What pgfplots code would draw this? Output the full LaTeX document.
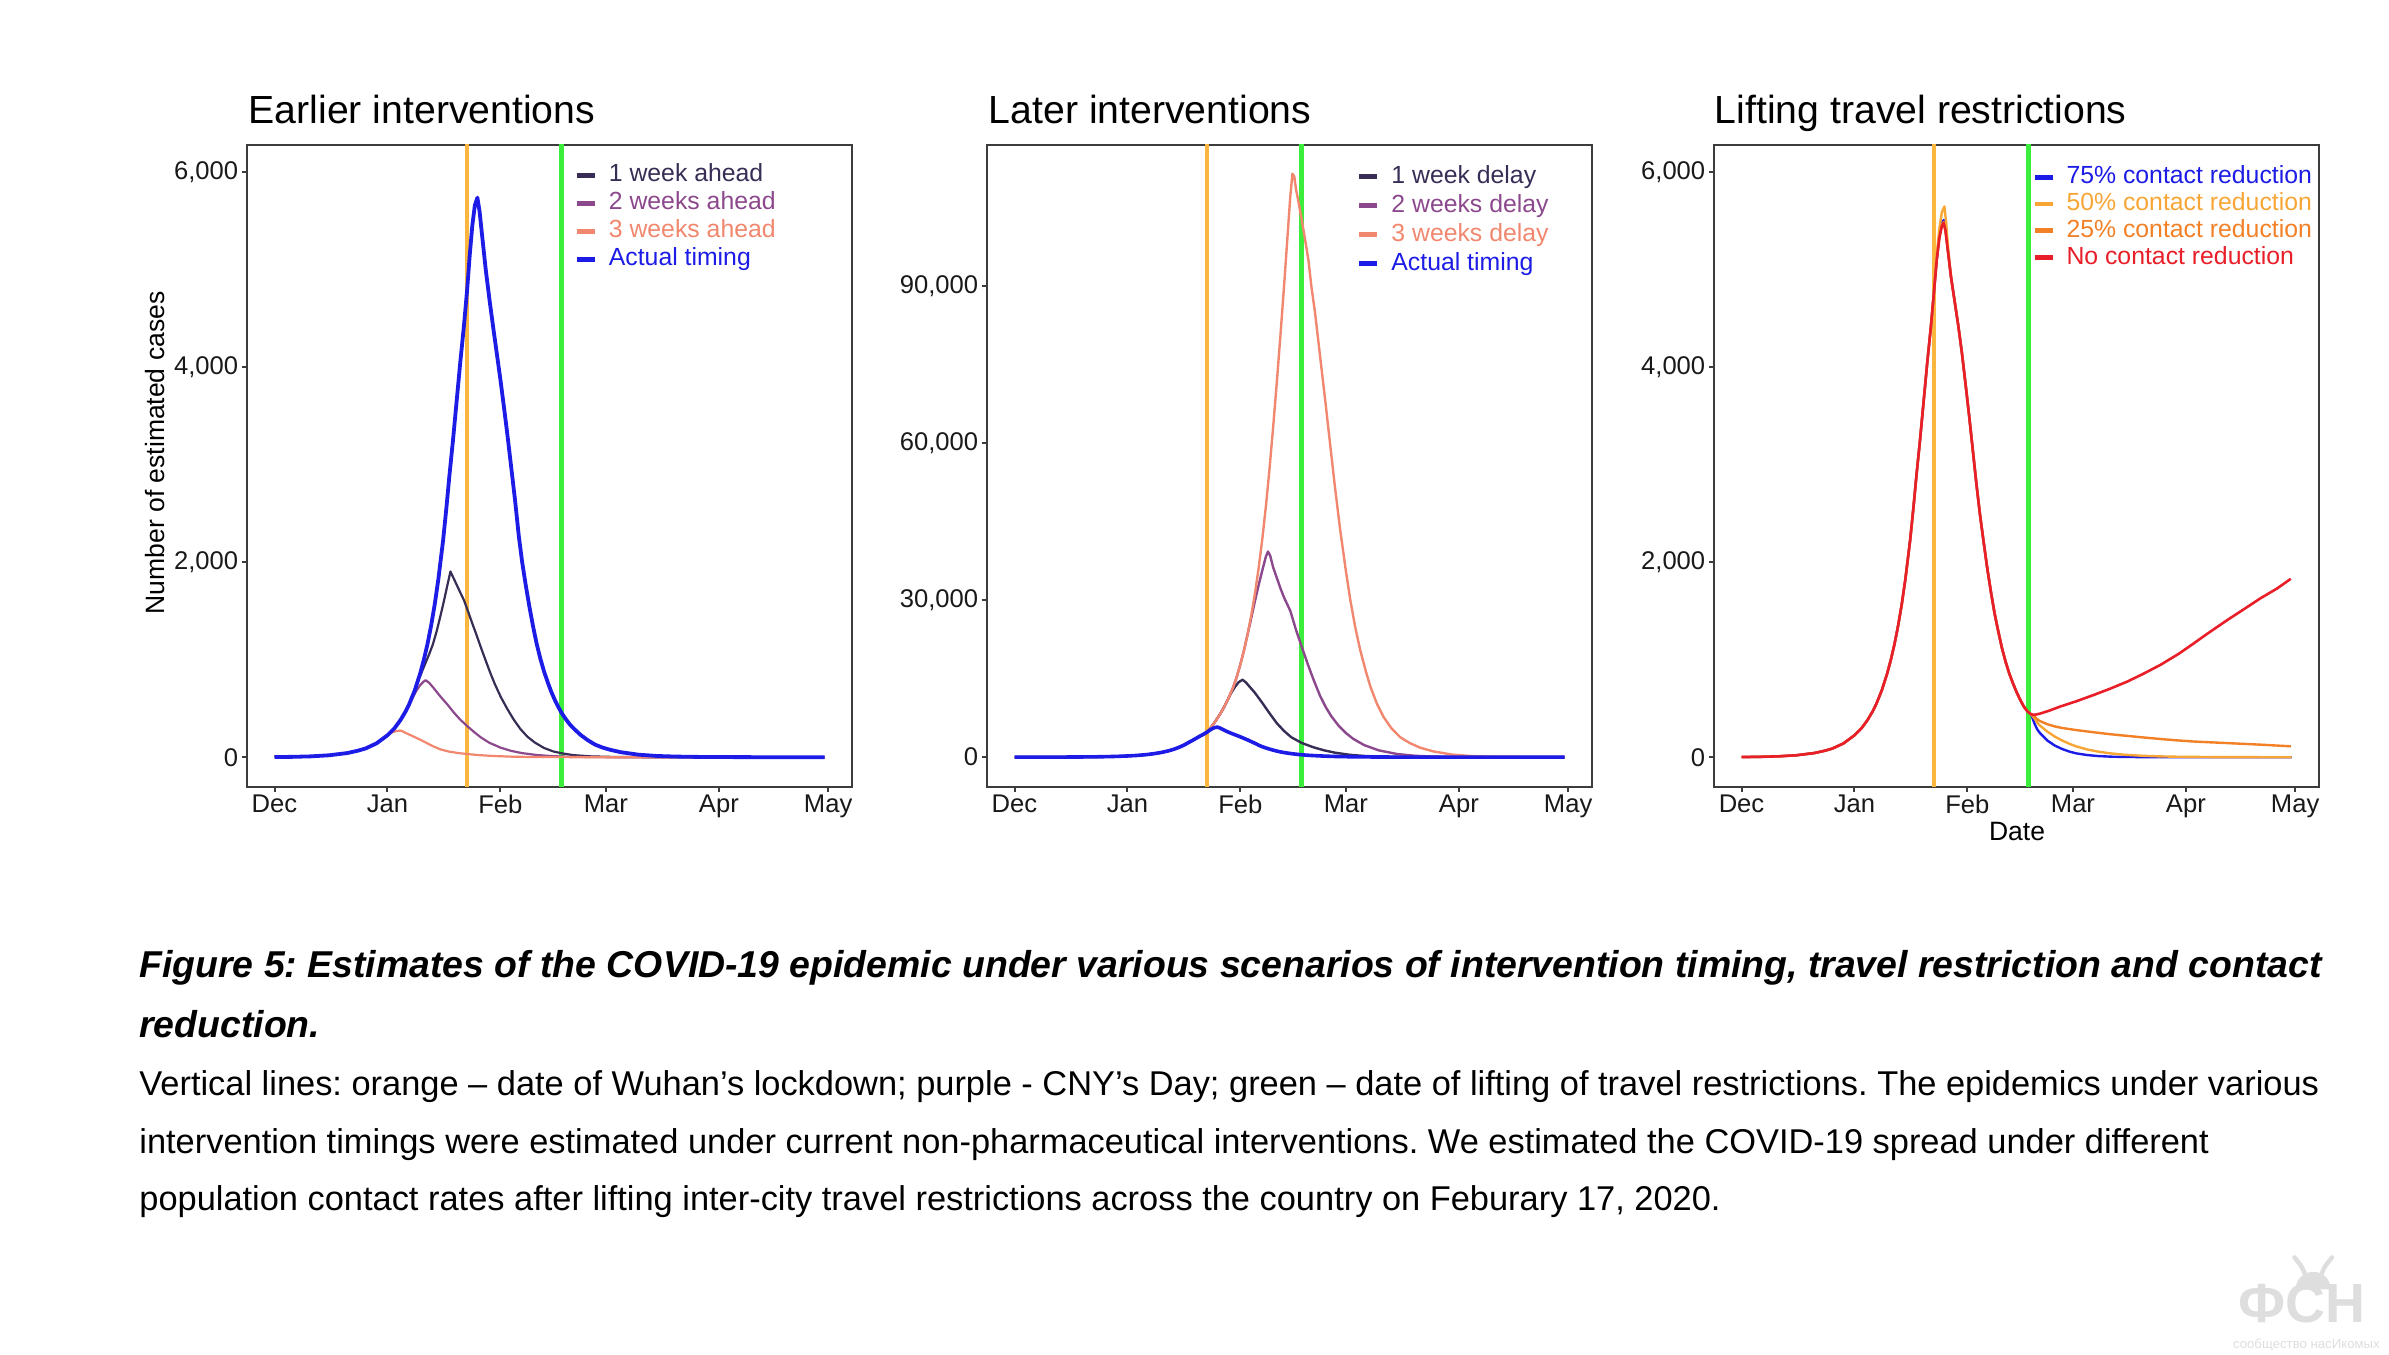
\documentclass[border=0pt]{standalone}
\usepackage{fontspec}
\setmainfont{Liberation Sans}
\usepackage{pgfplots}
\usepackage{pgfplotstable}
\pgfplotsset{compat=1.18}
\frenchspacing

\definecolor{wk1}{RGB}{55,45,85}
\definecolor{wk2}{RGB}{140,72,140}
\definecolor{wk3}{RGB}{240,135,110}
\definecolor{act}{RGB}{28,28,230}
\definecolor{cfifty}{RGB}{247,166,54}
\definecolor{ctwf}{RGB}{242,128,38}
\definecolor{cnone}{RGB}{232,30,40}
\definecolor{lock}{RGB}{250,182,62}
\definecolor{lift}{RGB}{60,238,60}
\definecolor{frame}{RGB}{60,60,60}
\definecolor{wm}{RGB}{222,222,222}

% ---------- data (day 0 = 1 Dec 2019) ----------
\pgfplotstableread{
x y
0 2
5 4
10 9
15 20
20 43
23 68
25 90
28 142
31 225
33 300
34.6 382
36 470
37 546
38.5 685
40 860
41 1000
42 1160
43 1350
44 1570
45 1830
46.3 2228
47.2 2560
48 2880
49 3250
50 3650
51 4050
52 4420
52.9 4800
53.6 5150
54.3 5450
55 5660
55.7 5740
56.3 5600
57 5350
58 5000
59 4700
60 4420
61 4150
62 3880
63 3590
64 3290
65 2970
66 2650
67.1 2260
68 2000
69 1760
70 1540
71 1340
72 1160
73 1010
74 880
75 770
76 670
77 585
78 510
78.9 450
80 390
81 340
82 300
84 230
86 175
88 130
90 100
92 78
95 52
100 26
105 13
110 7
115 4
120 2
130 1
140 0
151 0
}\tabActual

\pgfplotstableread{
x y
0 2
5 4
10 9
15 20
20 43
23 68
25 90
28 142
31 225
33 300
34.6 382
36 470
37 546
38.5 685
39.5 790
40.5 880
41.5 970
42.5 1060
43.5 1160
44.5 1290
45.5 1440
46.5 1600
47.5 1770
48.3 1905
49 1850
50 1770
51 1690
52 1612
53 1510
54.3 1373
55.5 1250
56.6 1133
58 990
59.3 860
60.5 750
62.1 620
64 490
65.7 385
67.5 290
69.4 212
71.5 150
74 95
76.5 60
78.9 40
82 22
86.8 9
92 4
100 1
110 0
151 0
}\tabEarlyA

\pgfplotstableread{
x y
0 2
5 4
10 9
15 20
20 43
23 68
25 90
28 142
31 225
33 300
34.6 382
36 470
37 540
38 615
39 685
40 740
41 778
41.5 790
42.5 762
43.5 718
45.6 621
47.5 540
49.2 460
51 385
52.9 320
54.7 262
56.6 205
59 148
62.1 98
65 65
68 42
72 23
76 12
80 6
90 1
100 0
151 0
}\tabEarlyB

\pgfplotstableread{
x y
0 2
5 4
10 9
15 20
20 43
23 68
25 90
28 142
31 225
32 250
33 264
34 271
34.8 272
36 250
37.5 224
40 180
42 142
43.5 113
45.6 80
48 57
50.5 43
52.9 33
56 22
60 13
65 6
70 3
80 1
90 0
151 0
}\tabEarlyC

\pgfplotstableread{
x y
0 2
5 4
10 9
15 20
20 43
23 68
25 90
28 142
31 225
33 300
34.6 382
36 470
37 546
38.5 685
40 860
41 1000
42 1160
43 1350
44 1570
45 1830
46.3 2228
47.2 2560
48 2880
49 3250
50 3650
51 4050
52 4420
52.9 4800
54 5750
55 6700
56 7750
57 8900
58 10200
58.7 11200
59.5 12300
60.5 13400
61.5 14300
62.6 14800
63.5 14300
64.5 13500
66 12300
68 10400
70 8400
72 6500
74 5000
76 3800
78.9 2700
82 1900
85 1300
88 850
92 450
96 230
100 110
110 20
120 0
151 0
}\tabLateA

\pgfplotstableread{
x y
0 2
5 4
10 9
15 20
20 43
23 68
25 90
28 142
31 225
33 300
34.6 382
36 470
37 546
38.5 685
40 860
41 1000
42 1160
43 1350
44 1570
45 1830
46.3 2228
47.2 2560
48 2880
49 3250
50 3650
51 4050
52 4420
52.9 4800
54 5750
55 6700
56 7750
57 8900
58 10200
58.7 11200
60 13300
61 15300
62 17700
63 20400
64 23500
65 26600
66 29800
67 32800
68 35600
69 38300
69.6 39300
70.2 38500
71 36300
72 34300
73 32300
74 30500
75.7 28000
77.3 24300
78.9 21000
80.5 17800
82.1 14800
83.9 11700
85.5 9500
87 7800
89 6000
91 4600
93 3500
96 2300
100 1300
105 600
110 260
115 110
120 50
130 10
151 0
}\tabLateB

\pgfplotstableread{
x y
0 2
5 4
10 9
15 20
20 43
23 68
25 90
28 142
31 225
33 300
34.6 382
36 470
37 546
38.5 685
40 860
41 1000
42 1160
43 1350
44 1570
45 1830
46.3 2228
47.2 2560
48 2880
49 3250
50 3650
51 4050
52 4420
52.9 4800
54 5750
55 6700
56 7750
57 8900
58 10200
58.7 11200
60 13300
61 15300
62 17700
63 20400
64 23500
65 27100
66 31200
67 36000
68 41500
69 47800
70 55000
71 63000
72 71500
73 80500
74 90000
75 100000
75.7 107000
76.3 111500
76.8 111000
77.3 108500
78 106000
78.9 102500
80 98000
80.7 95000
81.5 90000
82.5 85000
83.5 79000
84.5 73000
85.5 67000
86.7 59500
88 51500
89.4 43500
91 35500
92.2 30000
93.5 25000
94.9 20500
96.5 16300
97.7 13500
99.5 10200
101.3 7700
103.5 5500
105.9 3800
108.5 2700
111.4 1800
115 1100
120 500
125 230
130 100
140 20
151 0
}\tabLateC

% panel 3: common part to the lifting date, then the four scenarios
\pgfplotstableread{
x y
0 2
5 4
10 9
15 20
20 43
23 68
25 90
28 142
31 225
33 300
34.6 382
36 470
37 546
38.5 685
40 860
41 1000
42 1160
43 1350
44 1570
45 1830
46.3 2228
47.2 2560
48 2880
49 3250
50 3650
51 4050
52 4420
52.9 4800
53.6 5110
54.3 5340
55 5480
55.5 5510
56 5420
56.7 5190
57.5 4930
58.5 4680
59.5 4430
60.5 4150
61.5 3830
62.5 3500
63.5 3150
64.5 2800
65.5 2480
66.5 2200
67.5 1930
68.5 1690
69.5 1470
70.5 1290
71.5 1120
72.5 980
73.5 860
74.5 760
75.5 670
76.5 590
77.5 520
78.5 470
79.5 440
80.5 340
81.2 285
82 245
84 170
86 120
88 85
90 58
92 39
95 22
98 12
102 5
110 1
120 0
151 0
}\tabSev

\pgfplotstableread{
x y
0 2
5 4
10 9
15 20
20 43
23 68
25 90
28 142
31 225
33 300
34.6 382
36 470
37 546
38.5 685
40 860
41 1000
42 1160
43 1350
44 1570
45 1830
46.3 2228
47.2 2560
48 2880
49 3250
50 3650
51 4050
52 4420
52.9 4800
53.6 5150
54.3 5420
55 5590
55.7 5650
56.2 5480
56.7 5230
57.5 4930
58.5 4680
59.5 4430
60.5 4150
61.5 3830
62.5 3500
63.5 3150
64.5 2800
65.5 2480
66.5 2200
67.5 1930
68.5 1690
69.5 1470
70.5 1290
71.5 1120
72.5 980
73.5 860
74.5 760
75.5 670
76.5 590
77.5 520
78.5 470
79.5 440
80.5 395
81.2 355
82 322
84 262
86 212
88 172
90 138
92 110
95 79
98 57
101 41
105 26
110 15
115 8.5
120 5
130 1.5
140 0.5
151 0
}\tabFif

\pgfplotstableread{
x y
0 2
5 4
10 9
15 20
20 43
23 68
25 90
28 142
31 225
33 300
34.6 382
36 470
37 546
38.5 685
40 860
41 1000
42 1160
43 1350
44 1570
45 1830
46.3 2228
47.2 2560
48 2880
49 3250
50 3650
51 4050
52 4420
52.9 4800
53.6 5100
54.3 5330
55 5460
55.5 5490
56 5400
56.7 5180
57.5 4930
58.5 4680
59.5 4430
60.5 4150
61.5 3830
62.5 3500
63.5 3150
64.5 2800
65.5 2480
66.5 2200
67.5 1930
68.5 1690
69.5 1470
70.5 1290
71.5 1120
72.5 980
73.5 860
74.5 760
75.5 670
76.5 590
77.5 520
78.5 470
79.5 440
80.5 415
81.2 390
82 370
84 338
86 316
88 300
92 278
96.7 256
101 237
105.9 219
110 204
115 187
120 172
124.2 161
133.4 145
142.5 129
150.8 112
}\tabTwf

\pgfplotstableread{
x y
0 2
5 4
10 9
15 20
20 43
23 68
25 90
28 142
31 225
33 300
34.6 382
36 470
37 546
38.5 685
40 860
41 1000
42 1160
43 1350
44 1570
45 1830
46.3 2228
47.2 2560
48 2880
49 3250
50 3650
51 4050
52 4420
52.9 4800
53.6 5100
54.3 5320
55 5450
55.5 5480
56 5400
56.7 5180
57.5 4930
58.5 4680
59.5 4430
60.5 4150
61.5 3830
62.5 3500
63.5 3150
64.5 2800
65.5 2480
66.5 2200
67.5 1930
68.5 1690
69.5 1470
70.5 1290
71.5 1120
72.5 980
73.5 860
74.5 760
75.5 670
76.5 590
77.5 520
78.5 470
79.5 440
80.5 435
82 448
84.5 478
87.5 520
92 575
96.7 639
101 700
105.9 776
110 850
115 947
120 1060
124.2 1169
128 1270
133.4 1408
138 1520
142.5 1631
147 1730
150.8 1830
}\tabNone

\pgfplotsset{
  panel/.style={
    scale only axis, width=151.25pt, height=160.5pt,
    xmin=-7.55, xmax=158.55,
    xtick={0,31,62,91,122,152},
    xticklabels={Dec,Jan,Feb,Mar,Apr,May},
    scaled ticks=false,
    minor tick num=0,
    axis line style={draw=frame, line width=0.55pt},
    tick align=outside, xtick pos=bottom, ytick pos=left,
    major tick length=1.25pt,
    tick style={draw=frame, line width=0.5pt},
    tick label style={font=\fontsize{6.4}{7}\selectfont, text=black!90},
    xticklabel style={inner sep=0pt, yshift=-0.5pt},
    yticklabel style={inner sep=0pt, xshift=-0.75pt},
    /pgf/number format/assume math mode=true,
    legend cell align=left,
    legend image code/.code={\draw[##1, line width=1.2pt, solid] (0pt,0pt) -- (4.5pt,0pt); \path (7.6pt,0pt);},
    legend style={draw=none, fill=none, inner sep=0pt, anchor=north west,
      font=\fontsize{6.2}{7}\selectfont,
      nodes={inner sep=0pt, text height=4.5pt, text depth=1.3pt}},
    every axis plot/.append style={line join=round},
  },
}

\begin{document}
\begin{tikzpicture}
\path[use as bounding box] (0pt,0pt) rectangle (597.25pt,338.75pt);

% ===== Panel 1 =====
\begin{axis}[panel, at={(61.75pt,142pt)}, anchor=south west,
  ymin=-305, ymax=6280,
  ytick={0,2000,4000,6000}, yticklabels={0,{2,000},{4,000},{6,000}},
  legend style={at={(0.5395,0.9720)}, row sep=1.2pt}]
\addplot[forget plot, lock, line width=1.1pt] coordinates {(52.9,-1000) (52.9,8000)};
\addplot[forget plot, lift, line width=1.3pt] coordinates {(78.8,-1000) (78.8,8000)};
\addplot[wk1, line width=0.55pt] table {\tabEarlyA};
\addlegendentry{\textcolor{wk1}{1 week ahead}}
\addplot[wk2, line width=0.55pt] table {\tabEarlyB};
\addlegendentry{\textcolor{wk2}{2 weeks ahead}}
\addplot[wk3, line width=0.55pt] table {\tabEarlyC};
\addlegendentry{\textcolor{wk3}{3 weeks ahead}}
\addplot[act, line width=0.95pt] table {\tabActual};
\addlegendentry{\textcolor{act}{Actual timing}}
\end{axis}

% ===== Panel 2 =====
\begin{axis}[panel, at={(246.75pt,142pt)}, anchor=south west,
  ymin=-5700, ymax=117000,
  ytick={0,30000,60000,90000}, yticklabels={0,{30,000},{60,000},{90,000}},
  legend style={at={(0.6100,0.9700)}, row sep=1.45pt}]
\addplot[forget plot, lock, line width=0.95pt] coordinates {(52.9,-10000) (52.9,130000)};
\addplot[forget plot, lift, line width=1.3pt] coordinates {(78.8,-10000) (78.8,130000)};
\addplot[wk1, line width=0.6pt] table {\tabLateA};
\addlegendentry{\textcolor{wk1}{1 week delay}}
\addplot[wk2, line width=0.6pt] table {\tabLateB};
\addlegendentry{\textcolor{wk2}{2 weeks delay}}
\addplot[wk3, line width=0.6pt] table {\tabLateC};
\addlegendentry{\textcolor{wk3}{3 weeks delay}}
\addplot[act, line width=0.9pt] table {\tabActual};
\addlegendentry{\textcolor{act}{Actual timing}}
\end{axis}

% ===== Panel 3 =====
\begin{axis}[panel, at={(428.5pt,142pt)}, anchor=south west,
  ymin=-305, ymax=6280,
  ytick={0,2000,4000,6000}, yticklabels={0,{2,000},{4,000},{6,000}},
  legend style={at={(0.5250,0.9690)}, row sep=0.9pt}]
\addplot[forget plot, lock, line width=1.0pt] coordinates {(52.9,-1000) (52.9,8000)};
\addplot[forget plot, lift, line width=1.3pt] coordinates {(78.8,-1000) (78.8,8000)};
\addplot[act, line width=0.6pt] table {\tabSev};
\addlegendentry{\textcolor{act}{75\% contact reduction}}
\addplot[cfifty, line width=0.6pt] table {\tabFif};
\addlegendentry{\textcolor{cfifty}{50\% contact reduction}}
\addplot[ctwf, line width=0.6pt] table {\tabTwf};
\addlegendentry{\textcolor{ctwf}{25\% contact reduction}}
\addplot[cnone, line width=0.65pt] table {\tabNone};
\addlegendentry{\textcolor{cnone}{No contact reduction}}
\end{axis}

% titles and axis titles
\node[anchor=base west, inner sep=0pt, font=\fontsize{9.8}{11}\selectfont] at (62pt,307.75pt) {Earlier interventions};
\node[anchor=base west, inner sep=0pt, font=\fontsize{9.8}{11}\selectfont] at (247pt,307.75pt) {Later interventions};
\node[anchor=base west, inner sep=0pt, font=\fontsize{9.8}{11}\selectfont] at (428.5pt,307.75pt) {Lifting travel restrictions};
\node[rotate=90, inner sep=0pt, font=\fontsize{6.63}{8}\selectfont] at (38.75pt,225.5pt) {Number of estimated cases};
\node[anchor=base, inner sep=0pt, font=\fontsize{6.63}{8}\selectfont] at (504.25pt,128.5pt) {Date};

% caption
\node[anchor=base west, inner sep=0pt, font=\fontsize{9.35}{11}\selectfont\bfseries\itshape] at (34.65pt,94.25pt) {Figure 5: Estimates of the COVID-19 epidemic under various scenarios of intervention timing, travel restriction and contact};
\node[anchor=base west, inner sep=0pt, font=\fontsize{9.35}{11}\selectfont\bfseries\itshape] at (34.65pt,79.4pt) {reduction.};
\node[anchor=base west, inner sep=0pt, font=\fontsize{8.6}{10}\selectfont] at (34.65pt,64.9pt) {Vertical lines: orange – date of Wuhan’s lockdown; purple - CNY’s Day; green – date of lifting of travel restrictions. The epidemics under various};
\node[anchor=base west, inner sep=0pt, font=\fontsize{8.6}{10}\selectfont] at (34.65pt,50.4pt) {intervention timings were estimated under current non-pharmaceutical interventions. We estimated the COVID-19 spread under different};
\node[anchor=base west, inner sep=0pt, font=\fontsize{8.6}{10}\selectfont] at (34.65pt,36.0pt) {population contact rates after lifting inter-city travel restrictions across the country on Feburary 17, 2020.};

% watermark
\fill[wm] (573.9pt,16.4pt) arc[start angle=180, end angle=0, radius=4.4pt] -- cycle;
\draw[wm, line width=1.1pt, line cap=round] (576.2pt,20.2pt) .. controls (575.5pt,22.5pt) and (574.2pt,23.5pt) .. (573.6pt,24.4pt);
\draw[wm, line width=1.1pt, line cap=round] (580.4pt,20.2pt) .. controls (581.1pt,22.5pt) and (582.4pt,23.5pt) .. (583.0pt,24.4pt);
\node[anchor=base, inner sep=0pt, text=wm, font=\fontsize{13.8}{14}\selectfont\bfseries] at (575.4pt,8pt) {ФСН};
\node[anchor=base, inner sep=0pt, text=wm, font=\fontsize{3.3}{4}\selectfont] at (576.6pt,1.6pt) {сообщество насИкомых};
\end{tikzpicture}
\end{document}
